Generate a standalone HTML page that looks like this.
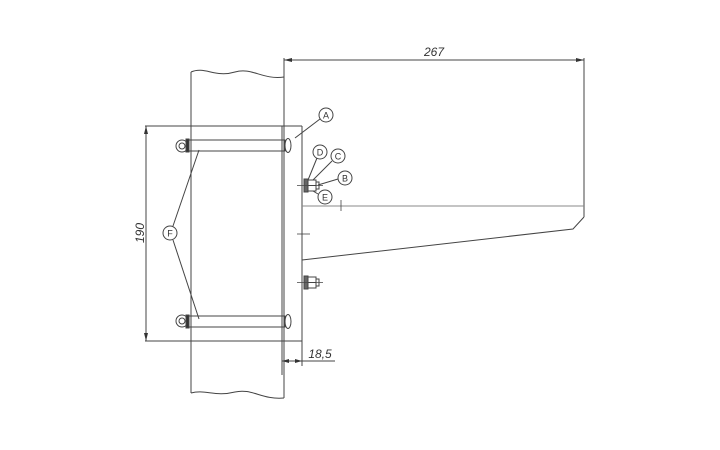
<!DOCTYPE html>
<html><head><meta charset="utf-8"><style>
html,body{margin:0;padding:0;background:#fff;}
svg{display:block;}
text{font-family:"Liberation Sans",sans-serif;fill:#333;}
</style></head><body>
<svg width="720" height="450" viewBox="0 0 720 450" xmlns="http://www.w3.org/2000/svg">
<g fill="none" stroke="#444" stroke-width="1">
<!-- pole -->
<path d="M191,72 C205,66 215,78 235,72 C252,67 262,80 284,77"/>
<line x1="191" y1="72" x2="191" y2="393"/>
<line x1="284" y1="77" x2="284" y2="398"/>
<path d="M191,393 C205,389 215,397 235,392 C252,388 262,400 284,398"/>
<!-- frame -->
<line x1="145" y1="126" x2="302" y2="126"/>
<line x1="145" y1="341" x2="302" y2="341"/>
<line x1="282" y1="126" x2="282" y2="375"/>
<line x1="302" y1="126" x2="302" y2="366"/>
<line x1="146" y1="126" x2="146" y2="341"/>
<!-- 267 dim -->
<line x1="284" y1="58" x2="284" y2="126"/>
<line x1="284" y1="60" x2="584" y2="60"/>
<line x1="584" y1="58" x2="584" y2="217"/>
<!-- arm -->
<line x1="302" y1="206" x2="584" y2="206" stroke="#888"/>
<path d="M584,217 L573,229 L302,260"/>
<line x1="341" y1="200" x2="341" y2="211" stroke-width="0.8"/>
<line x1="297" y1="234" x2="310" y2="234" stroke-width="0.8"/>
<!-- bars -->
<rect x="188" y="140" width="97" height="11"/>
<rect x="188" y="316" width="97" height="11"/>
<ellipse cx="288" cy="145.5" rx="3" ry="7"/>
<ellipse cx="288" cy="321.5" rx="3" ry="7"/>
<circle cx="182" cy="146" r="6"/><circle cx="182" cy="146" r="3"/>
<circle cx="182" cy="321" r="6"/><circle cx="182" cy="321" r="3"/>
<rect x="186" y="139" width="3" height="13" fill="#333"/>
<rect x="186" y="315" width="3" height="13" fill="#333"/>
<!-- nuts -->
<g id="n1">
<rect x="304" y="179" width="4" height="13" fill="#666"/>
<rect x="308" y="180" width="8" height="11"/>
<line x1="308" y1="185.5" x2="316" y2="185.5"/>
<rect x="316" y="182" width="3" height="7"/>
<line x1="297" y1="185.5" x2="323" y2="185.5" stroke-width="0.7"/>
</g>
<use href="#n1" transform="translate(0,97)"/>
<!-- 18,5 dim -->
<line x1="282" y1="361" x2="335" y2="361"/>
<!-- leaders -->
<line x1="295" y1="138" x2="320" y2="119"/>
<line x1="308" y1="180" x2="317" y2="158"/>
<line x1="313" y1="180" x2="332" y2="161"/>
<line x1="318" y1="185" x2="338" y2="179"/>
<line x1="313" y1="191" x2="318" y2="194"/>
<line x1="199" y1="150" x2="173" y2="226"/>
<line x1="199" y1="319" x2="173" y2="240"/>
<!-- circles -->
<circle cx="326" cy="115" r="7"/>
<circle cx="320" cy="152" r="7"/>
<circle cx="338" cy="156" r="7"/>
<circle cx="345" cy="178" r="7"/>
<circle cx="325" cy="197" r="7"/>
<circle cx="170" cy="233" r="7"/>
</g>
<g fill="#333">
<path d="M146,126 l-2,8 h4z"/><path d="M146,341 l-2,-8 h4z"/>
<path d="M284,60 l8,-2 v4z"/><path d="M584,60 l-8,-2 v4z"/>
<path d="M282,361 l7,-2 v4z"/><path d="M302,361 l-7,-2 v4z"/>
</g>
<g font-size="9" text-anchor="middle">
<text x="326" y="118.5">A</text>
<text x="320" y="155.5">D</text>
<text x="338" y="159.5">C</text>
<text x="345" y="181.5">B</text>
<text x="325" y="200.5">E</text>
<text x="170" y="236.5">F</text>
</g>
<text x="434" y="56" font-size="12" font-style="italic" text-anchor="middle">267</text>
<text x="320" y="358" font-size="12" font-style="italic" text-anchor="middle">18,5</text>
<text x="0" y="0" font-size="12" font-style="italic" text-anchor="middle" transform="translate(144,233) rotate(-90)">190</text>
</svg>
</body></html>
